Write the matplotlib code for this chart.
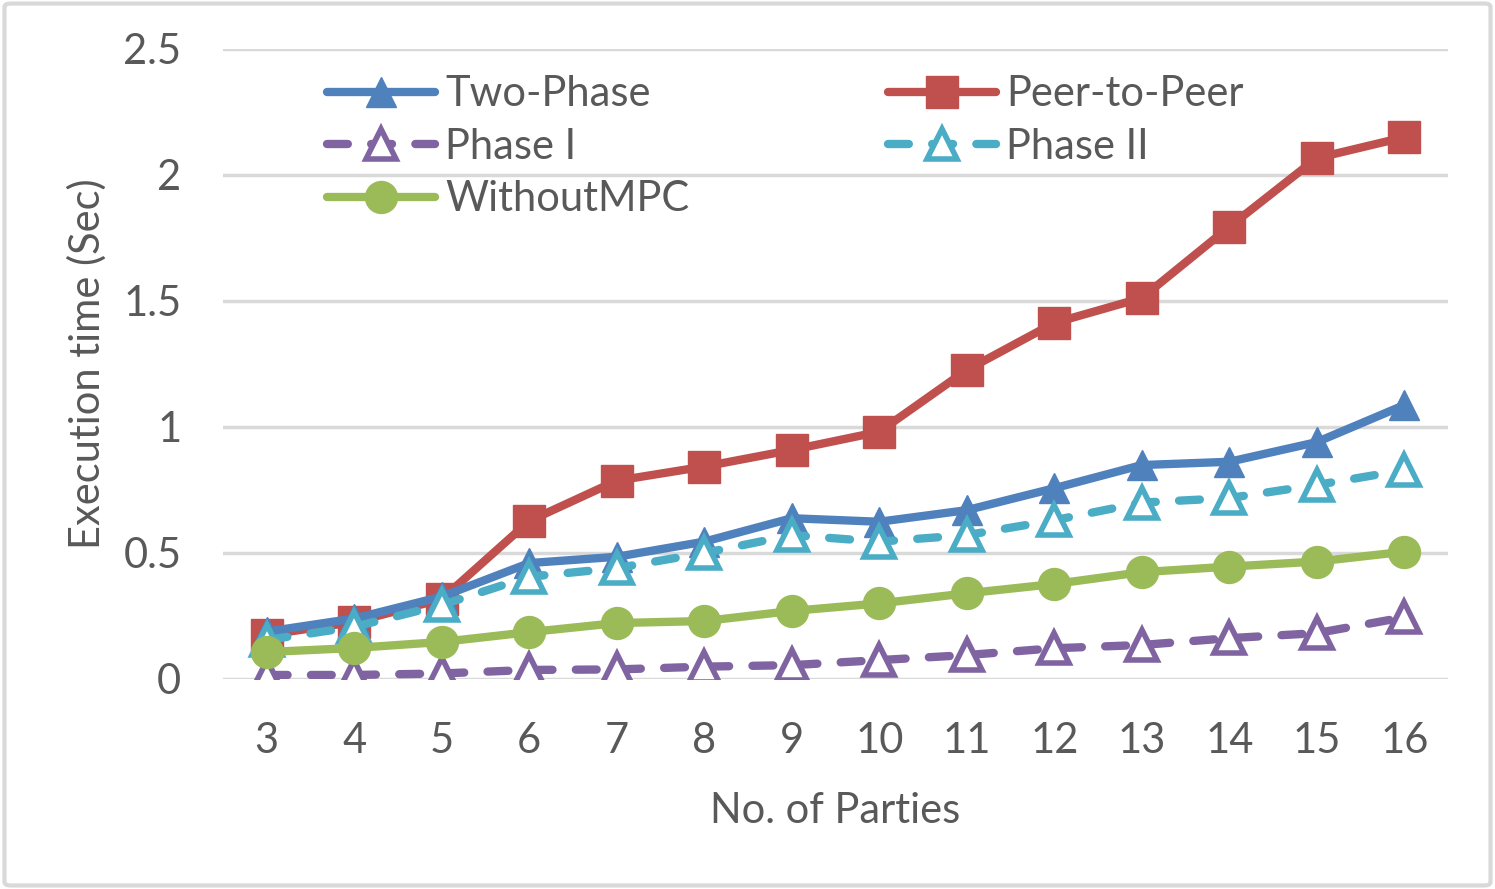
import matplotlib
matplotlib.use("Agg")
import matplotlib.pyplot as plt
from matplotlib.patches import FancyBboxPatch

parties = [3, 4, 5, 6, 7, 8, 9, 10, 11, 12, 13, 14, 15, 16]
two_phase = [0.188, 0.24, 0.327, 0.46, 0.485, 0.545, 0.638, 0.624, 0.67, 0.757, 0.849, 0.862, 0.94, 1.087]
peer_to_peer = [0.175, 0.226, 0.317, 0.627, 0.787, 0.843, 0.909, 0.981, 1.226, 1.413, 1.512, 1.794, 2.067, 2.15]
phase_1 = [0.016, 0.016, 0.022, 0.036, 0.038, 0.049, 0.055, 0.075, 0.095, 0.122, 0.135, 0.162, 0.182, 0.245]
phase_2 = [0.155, 0.207, 0.294, 0.406, 0.44, 0.5, 0.571, 0.545, 0.571, 0.63, 0.70, 0.718, 0.77, 0.829]
without_mpc = [0.107, 0.123, 0.147, 0.186, 0.222, 0.23, 0.27, 0.30, 0.34, 0.377, 0.424, 0.446, 0.466, 0.505]
yticks = [0, 0.5, 1, 1.5, 2, 2.5]
ytick_labels = ["0", "0.5", "1", "1.5", "2", "2.5"]

plt.rcParams['font.family'] = ['Lato', 'DejaVu Sans']
TXT = "#595959"
FS = 30

fig = plt.figure(figsize=(14.95, 8.89), dpi=100)
ax = fig.add_axes([223/1495, 1-679/889, (1448-223)/1495, (679-49)/889])

lw = 6
h_peer, = ax.plot(parties, peer_to_peer, color="#C0504D", lw=lw, marker="s", ms=22.5,
                  label="Peer-to-Peer", zorder=3, solid_capstyle="round")
h_two, = ax.plot(parties, two_phase, color="#4F81BD", lw=lw, marker="^", ms=22,
                 label="Two-Phase", zorder=4, solid_capstyle="round")
h_p1, = ax.plot(parties, phase_1, color="#8064A2", lw=lw, marker="^", ms=21,
                mfc="white", mec="#8064A2", mew=4, linestyle=(0, (2.5, 2.8)),
                dash_capstyle="round", label="Phase I", zorder=5)
h_p2, = ax.plot(parties, phase_2, color="#4BACC6", lw=lw, marker="^", ms=21,
                mfc="white", mec="#4BACC6", mew=4, linestyle=(0, (2.5, 2.8)),
                dash_capstyle="round", label="Phase II", zorder=6)
h_wo, = ax.plot(parties, without_mpc, color="#9BBB59", lw=lw, marker="o", ms=23,
                label="WithoutMPC", zorder=7, solid_capstyle="round")

ax.set_xlim(2.5, 16.5)
ax.set_ylim(0, 2.5)
ax.set_yticks(yticks)
ax.set_yticklabels(ytick_labels)
ax.set_xticks(parties)
ax.set_xticklabels([str(p) for p in parties])
ax.grid(axis="y", color="#D9D9D9", lw=2.5, zorder=0)
ax.set_axisbelow(True)
for s in ax.spines.values():
    s.set_visible(False)
ax.tick_params(axis="both", length=0, labelsize=FS, colors=TXT)
ax.tick_params(axis="y", pad=30)
ax.tick_params(axis="x", pad=31)
for lbl in ax.get_yticklabels() + ax.get_xticklabels():
    lbl.set_color(TXT)

ax.set_xlabel("No. of Parties", fontsize=FS, color=TXT, labelpad=23)
ax.set_ylabel("Execution time (Sec)", fontsize=FS, color=TXT, labelpad=12)

leg = ax.legend(handles=[h_two, h_p1, h_wo, h_peer, h_p2], ncol=2,
                loc="upper left", bbox_to_anchor=(0.071, 0.985), frameon=False,
                fontsize=FS, handlelength=2.6, handletextpad=0.25,
                columnspacing=4.75, labelspacing=0.35, borderaxespad=0)
for t in leg.get_texts():
    t.set_color(TXT)

border = FancyBboxPatch((0.003, 0.004), 0.994, 0.992, boxstyle="round,pad=0,rounding_size=0.004",
                        transform=fig.transFigure, fill=False, ec="#D9D9D9", lw=3)
fig.patches.append(border)

fig.savefig("out.png", dpi=100, facecolor="white")
